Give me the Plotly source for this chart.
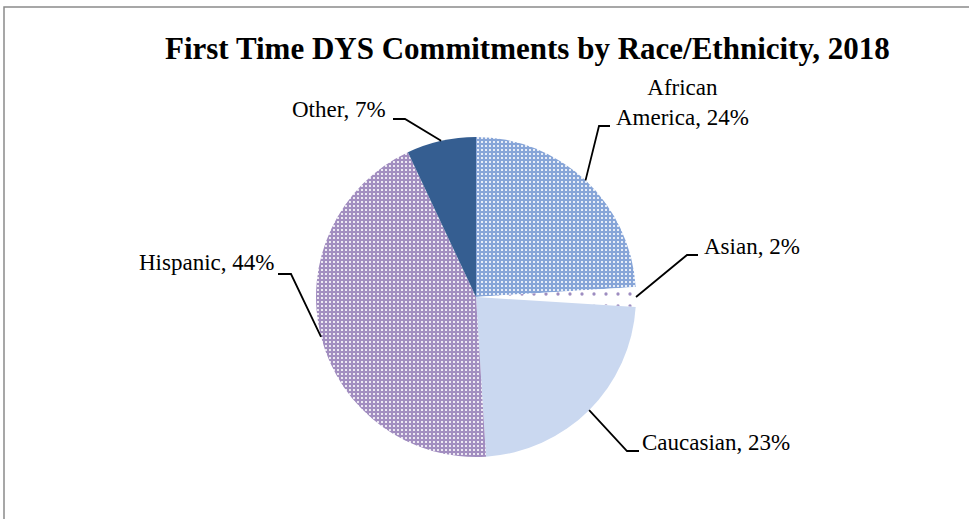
import math
import plotly.graph_objects as go

# ---- data ----
categories = ["African America", "Asian", "Caucasian", "Hispanic", "Other"]
label_text = ["African<br>America, 24%", "Asian, 2%", "Caucasian, 23%", "Hispanic, 44%", "Other, 7%"]
values = [24, 2, 23, 44, 7]
title_text = "First Time DYS Commitments by Race/Ethnicity, 2018"

# ---- layout / style ----
W, H = 969, 519
CX, CY, R = 476, 297, 160  # pie centre and radius in pixels
colors_bg = ["#87a5d8", "#ffffff", "#cad8f0", "#a28ec0", "#355e91"]
colors_fg = ["#ffffff", "#9d8cc0", "#cad8f0", "#ffffff", "#355e91"]
shapes_pat = [".", ".", "", ".", ""]
pat_size = [4, 12, 4, 4, 4]
pat_sol = [0.22, 0.06, 0.3, 0.22, 0.3]
# label placement: (elbow x, elbow y, end-of-dash x, text x, text y, xanchor)
label_pos = [
    (599, 126, 610, 682, 102, "center"),
    (687, 255, 698, 702, 246, "left"),
    (627, 451, 639, 640, 442, "left"),
    (291, 274, 278, 276, 262, "right"),
    (405, 119, 393, 388, 110, "right"),
]
FONT = "Liberation Serif, Times New Roman, serif"


def px(x):
    return x / W


def py(y):
    return 1 - y / H


fig = go.Figure()
fig.add_trace(go.Pie(
    labels=categories,
    values=values,
    sort=False,
    direction="clockwise",
    rotation=0,
    textinfo="none",
    hoverinfo="label+percent",
    showlegend=False,
    domain=dict(x=[px(CX - R), px(CX + R)], y=[py(CY + R), py(CY - R)]),
    marker=dict(
        colors=colors_bg,
        line=dict(width=0),
        pattern=dict(shape=shapes_pat, fgcolor=colors_fg, bgcolor=colors_bg,
                     size=pat_size, solidity=pat_sol, fillmode="replace"),
    ),
))

shapes = []
annotations = []
total = sum(values)
cum = 0
for i, v in enumerate(values):
    mid = (cum + v / 2) / total * 2 * math.pi
    cum += v
    ax = CX + R * math.sin(mid)
    ay = CY - R * math.cos(mid)
    ex, ey, dx, tx, ty, anc = label_pos[i]
    path = f"M {px(ax)} {py(ay)} L {px(ex)} {py(ey)} L {px(dx)} {py(ey)}"
    shapes.append(dict(type="path", xref="paper", yref="paper", path=path,
                       line=dict(color="black", width=1.8)))
    annotations.append(dict(
        x=px(tx), y=py(ty), xref="paper", yref="paper", text=label_text[i],
        showarrow=False, xanchor=anc, yanchor="middle", align="center",
        font=dict(family=FONT, size=23, color="black"),
    ))

# title
annotations.append(dict(
    x=px(527), y=py(49), xref="paper", yref="paper", text=f"<b>{title_text}</b>",
    showarrow=False, xanchor="center", yanchor="middle",
    font=dict(family=FONT, size=31, color="black"),
))

# chart frame
shapes.append(dict(type="rect", xref="paper", yref="paper",
                   x0=px(4), x1=px(W + 10), y0=py(H + 10), y1=py(7),
                   line=dict(color="#8a8a8a", width=1.5), fillcolor="rgba(0,0,0,0)"))

fig.update_layout(
    width=W, height=H,
    margin=dict(l=0, r=0, t=0, b=0),
    paper_bgcolor="white",
    plot_bgcolor="white",
    shapes=shapes,
    annotations=annotations,
    font=dict(family=FONT),
)

fig.write_html("out.html", config={"displayModeBar": False},
               post_script="document.body.style.margin='0';document.body.style.overflow='hidden';")
